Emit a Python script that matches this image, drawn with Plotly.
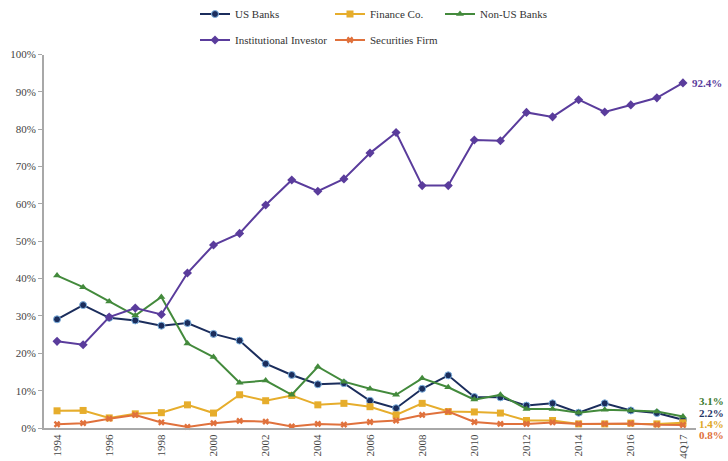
import plotly.graph_objects as go

categories = [str(y) for y in range(1994, 2018)] + ["4Q17"]
tick_labels = ["1994", "1996", "1998", "2000", "2002", "2004", "2006", "2008",
               "2010", "2012", "2014", "2016", "4Q17"]

us_banks = [29.1, 32.9, 29.5, 28.8, 27.4, 28.1, 25.2, 23.4, 17.2, 14.2, 11.7, 12.0,
            7.3, 5.3, 10.5, 14.1, 8.3, 8.2, 6.0, 6.6, 4.1, 6.6, 4.7, 4.0, 2.2]
finance_co = [4.6, 4.7, 2.7, 3.8, 4.1, 6.2, 4.0, 8.9, 7.3, 8.7, 6.2, 6.6,
              5.7, 3.5, 6.6, 4.4, 4.3, 4.0, 2.0, 2.0, 1.1, 1.1, 1.3, 1.1, 1.4]
non_us_banks = [40.8, 37.7, 33.9, 30.1, 35.1, 22.6, 19.0, 12.1, 12.7, 8.9, 16.4, 12.4,
                10.5, 8.9, 13.3, 10.9, 7.6, 8.9, 5.1, 5.1, 4.1, 4.9, 4.7, 4.4, 3.1]
inst_investor = [23.2, 22.3, 29.7, 32.1, 30.4, 41.5, 49.0, 52.1, 59.7, 66.4, 63.4, 66.7,
                 73.6, 79.1, 64.9, 64.9, 77.1, 76.9, 84.5, 83.3, 87.9, 84.6, 86.5, 88.4, 92.4]
securities = [1.0, 1.3, 2.5, 3.5, 1.5, 0.3, 1.3, 1.9, 1.7, 0.4, 1.1, 0.9,
              1.6, 2.0, 3.5, 4.4, 1.6, 1.1, 1.1, 1.5, 1.1, 1.1, 1.2, 0.9, 0.8]

FONT = "Liberation Serif, Times New Roman, DejaVu Serif, serif"
C_NAVY = "#1b2d5c"
C_GOLD = "#e6ad2c"
C_GREEN = "#438a3c"
C_PURPLE = "#5a3c9c"
C_ORANGE = "#e0713c"

fig = go.Figure()

def add(name, y, color, symbol, size, legend, mline=None):
    fig.add_trace(go.Scatter(
        x=categories, y=y, name=name, mode="lines+markers",
        line=dict(color=color, width=2),
        marker=dict(symbol=symbol, size=size, color=color,
                    line=dict(color=mline or color, width=1 if mline else 0)),
        legend=legend, cliponaxis=False))

add("US Banks", us_banks, C_NAVY, "circle", 7, "legend", mline="#7fb2e0")
add("Finance Co.", finance_co, C_GOLD, "square", 7, "legend")
add("Non-US Banks", non_us_banks, C_GREEN, "triangle-up", 7, "legend3")
add("Institutional Investor", inst_investor, C_PURPLE, "diamond", 7, "legend2")
add("Securities Firm", securities, C_ORANGE, "x", 6, "legend2")

end_labels = [
    ("3.1%", 7.1, "#3b7a2e"),
    ("2.2%", 4.0, "#1f3566"),
    ("1.4%", 1.1, "#e0a828"),
    ("0.8%", -1.8, "#e0703a"),
]
for txt, ypos, col in end_labels:
    fig.add_annotation(x=categories[-1], xref="x", y=ypos / 100, yref="paper",
                       text="<b>" + txt + "</b>",
                       xanchor="left", yanchor="middle", xshift=14, showarrow=False,
                       font=dict(family=FONT, size=11, color=col))
fig.add_annotation(x=categories[-1], y=inst_investor[-1], text="<b>92.4%</b>",
                   xanchor="left", xshift=7, showarrow=False,
                   font=dict(family=FONT, size=11, color=C_PURPLE))

leg_common = dict(orientation="h", xref="container", yref="container",
                  xanchor="left", yanchor="middle", bgcolor="rgba(0,0,0,0)",
                  font=dict(family=FONT, size=11, color="#333333"),
                  entrywidthmode="pixels", entrywidth=90, itemwidth=30)

fig.update_layout(
    width=728, height=461,
    margin=dict(l=44, r=32, t=52, b=33),
    paper_bgcolor="white", plot_bgcolor="white",
    font=dict(family=FONT, size=11, color="#444444"),
    showlegend=True,
    legend=dict(x=195 / 728, y=1 - 14 / 461, **leg_common),
    legend2=dict(x=195 / 728, y=1 - 40 / 461, **leg_common),
    legend3=dict(x=440 / 728, y=1 - 14 / 461, **leg_common),
    xaxis=dict(type="category", range=[-0.5, 24.5], tickmode="array",
               tickvals=tick_labels, ticktext=tick_labels, tickangle=-90,
               showline=True, linecolor="#a8a8a8", linewidth=2, ticks="",
               showgrid=False, zeroline=False, automargin=False,
               tickfont=dict(family=FONT, size=11, color="#444444")),
    yaxis=dict(range=[0, 100], dtick=10, ticksuffix="%", showline=True,
               linecolor="#a8a8a8", linewidth=2, ticks="outside", ticklen=4,
               tickcolor="#a8a8a8", showgrid=False, zeroline=False,
               automargin=False,
               tickfont=dict(family=FONT, size=11, color="#444444")),
)

fig.write_html("out.html", config={"displayModeBar": False},
               post_script="document.body.style.margin='0';"
                           "document.body.style.overflow='hidden';")
